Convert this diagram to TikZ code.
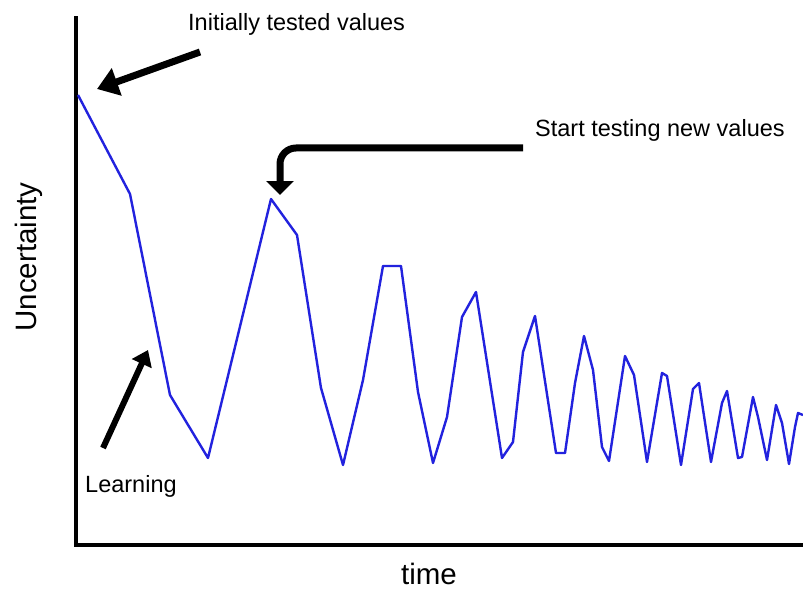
\documentclass[tikz,border=0pt]{standalone}
\usepackage{fontspec}
\setmainfont{Liberation Sans}
\usetikzlibrary{arrows.meta}
\definecolor{curveblue}{RGB}{34,34,222}
\tikzset{
  axisline/.style={line width=4.5pt, line cap=rect},
  curveline/.style={curveblue, line width=2.4pt, line join=round},
  callout/.style={line width=7pt, -{Triangle[length=21pt,width=28pt]}},
  label/.style={inner sep=0pt, font=\fontsize{23.5}{26}\selectfont},
  axislabel/.style={inner sep=0pt, font=\fontsize{29.5}{32}\selectfont},
}
\begin{document}
\begin{tikzpicture}[x=1pt,y=-1pt]
  \useasboundingbox (0,0) rectangle (803,591);
  \fill[white] (0,0) rectangle (803,591);

  % axes
  \coordinate (origin) at (76,545);
  \coordinate (ytop) at (76,18);
  \coordinate (xend) at (803,545);
  \draw[axisline] (ytop) -- (origin) -- (xend);

  % axis labels
  \node[axislabel, anchor=base] (tlabel) at (429,584) {time};
  \node[axislabel, anchor=base, rotate=90] (ulabel) at (36,257) {Uncertainty};

  % uncertainty over time
  \draw[curveline] plot coordinates {
    (78,95) (130,194) (170,395) (208,458) (271,199) (297,235) (321,388)
    (343,465) (363,380) (383,266) (401,266) (418,392) (433,463) (447,417)
    (462,317) (476,292) (502,458) (513,442) (523,352) (535,316) (556,453)
    (565,453) (575,383) (584,336) (593,370) (602,447) (609,461) (625,356)
    (634,375) (647,462) (662,373) (667,376) (681,465) (693,389) (699,383)
    (711,462) (722,403) (727,391) (738,458) (742,457) (753,397) (758,417)
    (767,460) (776,405) (782,423) (789,464) (795,427) (798,413) (803,415)};

  % annotations
  \node[label, anchor=base west] (initial) at (188,31) {Initially tested values};
  \node[label, anchor=base west] (newvals) at (535,137) {Start testing new values};
  \node[label, anchor=base west] (learn) at (85,492) {Learning};

  \coordinate (initTail) at (200,52);
  \coordinate (initTip) at (97,89);
  \draw[callout] (initTail) -- (initTip);

  \coordinate (newTail) at (523,148);
  \coordinate (newTip) at (280,195);
  \draw[callout, -{Triangle[length=14pt,width=27pt]}, rounded corners=16pt]
    (newTail) -| (newTip);

  \coordinate (learnTail) at (103,448);
  \coordinate (learnTip) at (148,350);
  \draw[callout, line width=6pt, -{Triangle[length=15pt,width=21pt]}]
    (learnTail) -- (learnTip);
\end{tikzpicture}
\end{document}
